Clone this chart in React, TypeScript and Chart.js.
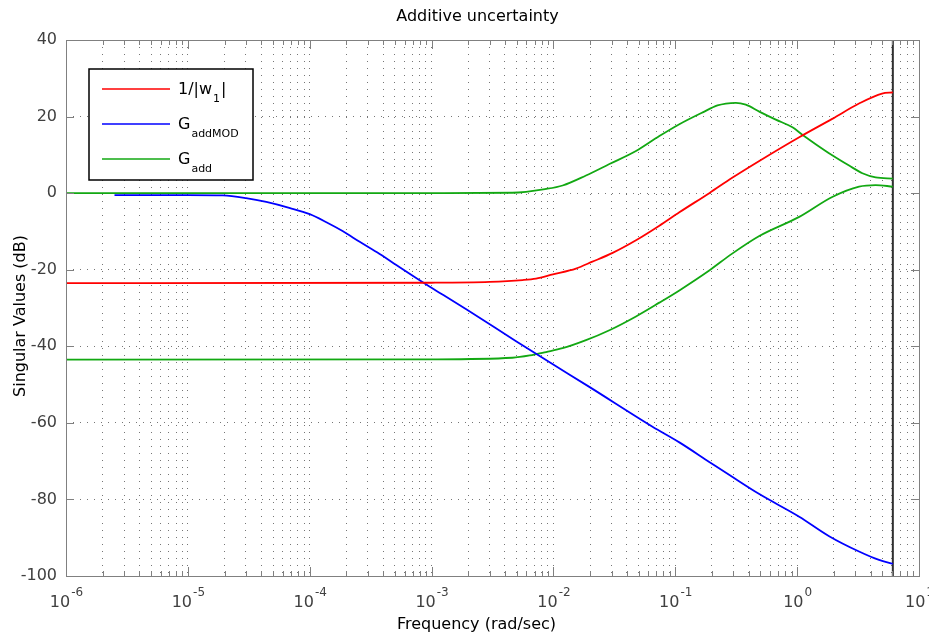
import React, { useEffect, useRef } from "react";
import { Chart, registerables } from "chart.js";
Chart.register(...registerables);

// ---- data (frequency in rad/sec, magnitude in dB) ----
const invW1Freq = [1e-6, 1e-3, 3e-3, 5.6e-3, 7.2e-3, 0.0099, 0.0153, 0.0209, 0.0306, 0.0476, 0.074, 0.108, 0.19, 0.293, 0.489, 1.04, 1.94, 3.22, 4.97, 6.1];
const invW1Db = [-23.5, -23.4, -23.2, -22.7, -22.3, -21.2, -19.7, -17.9, -15.6, -12.3, -8.5, -5.0, 0, 4.0, 8.4, 14.6, 19.4, 23.4, 26.0, 26.3];

const gAddModFreq = [2.5e-6, 1e-5, 1.94e-5, 3e-5, 4.4e-5, 6.9e-5, 1e-4, 1.37e-4, 1.86e-4, 2.57e-4, 3.75e-4, 5.1e-4, 7e-4, 9.6e-4, 1.16e-3, 1.94e-3, 4.9e-3, 8.7e-3, 0.0197, 0.065, 0.108, 0.19, 0.293, 0.489, 1.04, 1.83, 3.22, 4.7, 6.1];
const gAddModDb = [-0.5, -0.5, -0.6, -1.3, -2.3, -3.9, -5.5, -7.6, -9.9, -12.7, -15.9, -18.7, -21.6, -24.4, -26.0, -30.4, -38.6, -43.6, -50.6, -61.0, -65.1, -70.2, -74.1, -78.6, -84.5, -89.6, -93.6, -95.8, -96.8];

const gAddUpperFreq = [1e-6, 1e-3, 4.6e-3, 8.7e-3, 0.0119, 0.0185, 0.0288, 0.0476, 0.074, 0.108, 0.168, 0.222, 0.26, 0.314, 0.379, 0.489, 0.668, 0.916, 1.11, 1.42, 1.94, 2.67, 3.43, 4.41, 6.1];
const gAddUpperDb = [0, 0, 0.1, 1.1, 2.0, 4.6, 7.6, 11.0, 14.9, 18.0, 21.1, 22.9, 23.4, 23.6, 23.1, 21.3, 19.2, 17.2, 15.2, 12.8, 9.9, 7.2, 5.2, 4.1, 3.8];

const gAddLowerFreq = [1e-6, 1e-3, 4.6e-3, 6.4e-3, 8.7e-3, 0.0119, 0.0185, 0.0288, 0.0476, 0.074, 0.108, 0.19, 0.293, 0.489, 1.04, 1.94, 3.22, 4.4, 6.1];
const gAddLowerDb = [-43.5, -43.4, -43.0, -42.4, -41.5, -40.5, -38.4, -35.8, -32.2, -28.6, -25.4, -20.2, -15.8, -11.2, -6.2, -1.0, 1.7, 2.1, 1.7];

const endFreq = [6.1, 6.1];
const endDb = [40, -100];

const xDecadeExps = [-6, -5, -4, -3, -2, -1, 0, 1];
const minorMultipliers = [2, 3, 4, 5, 6, 7, 8, 9];
const yTickValues = [40, 20, 0, -20, -40, -60, -80, -100];

const legendBase = ["1/|w", "G", "G"];
const legendSub = ["1", "addMOD", "add"];
const legendTail = ["|", "", ""];
const seriesColors = ["#ff0000", "#0000ff", "#12a812"];

const titleText = "Additive uncertainty";
const xTitleText = "Frequency (rad/sec)";
const yTitleText = "Singular Values (dB)";

const FONT = '"DejaVu Sans"';

const zip = (fs: number[], ds: number[]) => fs.map((f, i) => ({ x: f, y: ds[i] }));

export default function App() {
  const ref = useRef<HTMLCanvasElement | null>(null);

  useEffect(() => {
    const canvas = ref.current;
    if (!canvas) return;

    const decor = {
      id: "decor",
      afterDatasetsDraw(chart: any) {
        const ctx = chart.ctx as CanvasRenderingContext2D;
        const { left, right, top, bottom } = chart.chartArea;
        const xs = chart.scales.x;
        const ys = chart.scales.y;
        ctx.save();
        // axes box
        ctx.strokeStyle = "#808080";
        ctx.lineWidth = 1;
        ctx.setLineDash([]);
        ctx.strokeRect(left + 0.5, top + 0.5, right - left, bottom - top);
        // y tick marks
        ctx.beginPath();
        for (const v of yTickValues) {
          const py = Math.round(ys.getPixelForValue(v)) + 0.5;
          ctx.moveTo(left, py); ctx.lineTo(left + 8, py);
          ctx.moveTo(right, py); ctx.lineTo(right - 8, py);
        }
        // x tick marks
        for (const e of xDecadeExps) {
          const px = Math.round(xs.getPixelForValue(Math.pow(10, e))) + 0.5;
          ctx.moveTo(px, bottom); ctx.lineTo(px, bottom - 9);
          ctx.moveTo(px, top); ctx.lineTo(px, top + 9);
          if (e < 1) {
            for (const m of minorMultipliers) {
              const pm = Math.round(xs.getPixelForValue(m * Math.pow(10, e))) + 0.5;
              ctx.moveTo(pm, bottom); ctx.lineTo(pm, bottom - 5);
              ctx.moveTo(pm, top); ctx.lineTo(pm, top + 5);
            }
          }
        }
        ctx.stroke();

        // x tick labels 10^e
        ctx.fillStyle = "#404040";
        ctx.textAlign = "left";
        ctx.textBaseline = "alphabetic";
        for (const e of xDecadeExps) {
          const px = xs.getPixelForValue(Math.pow(10, e));
          ctx.font = `16px ${FONT}`;
          const bw = ctx.measureText("10").width;
          ctx.font = `12px ${FONT}`;
          const es = String(e);
          const ew = ctx.measureText(es).width;
          const start = px - (bw + ew) / 2;
          ctx.font = `16px ${FONT}`;
          ctx.fillText("10", start, bottom + 31);
          ctx.font = `12px ${FONT}`;
          ctx.fillText(es, start + bw + 1, bottom + 20);
        }

        // titles
        ctx.fillStyle = "#000";
        ctx.textAlign = "center";
        ctx.font = `16px ${FONT}`;
        ctx.fillText(titleText, (left + right) / 2 - 15, top - 19);
        ctx.fillText(xTitleText, (left + right) / 2 - 16, bottom + 53);
        ctx.save();
        ctx.translate(25, (top + bottom) / 2 + 8);
        ctx.rotate(-Math.PI / 2);
        ctx.fillText(yTitleText, 0, 0);
        ctx.restore();

        // legend
        const lx = left + 23;
        const ly = top + 29;
        const lw = 164;
        const lh = 111;
        ctx.fillStyle = "#fff";
        ctx.fillRect(lx, ly, lw, lh);
        ctx.strokeStyle = "#000";
        ctx.lineWidth = 1.5;
        ctx.strokeRect(lx, ly, lw, lh);
        for (let i = 0; i < legendBase.length; i++) {
          const yy = ly + 20 + i * 35;
          ctx.strokeStyle = seriesColors[i];
          ctx.lineWidth = 1.5;
          ctx.beginPath();
          ctx.moveTo(lx + 13, yy);
          ctx.lineTo(lx + 81, yy);
          ctx.stroke();
          ctx.fillStyle = "#000";
          ctx.textAlign = "left";
          let tx = lx + 89;
          ctx.font = `16px ${FONT}`;
          ctx.fillText(legendBase[i], tx, yy + 5);
          tx += ctx.measureText(legendBase[i]).width + 1;
          ctx.font = `11px ${FONT}`;
          ctx.fillText(legendSub[i], tx, yy + 13);
          tx += ctx.measureText(legendSub[i]).width + 1;
          if (legendTail[i]) {
            ctx.font = `16px ${FONT}`;
            ctx.fillText(legendTail[i], tx, yy + 5);
          }
        }
        ctx.restore();
      },
    };

    const lineDs = (data: any[], color: string) => ({
      data,
      borderColor: color,
      backgroundColor: color,
      borderWidth: 1.8,
      pointRadius: 0,
      cubicInterpolationMode: "monotone" as const,
      fill: false,
    });

    const chart = new Chart(canvas, {
      type: "line",
      data: {
        datasets: [
          lineDs(zip(invW1Freq, invW1Db), seriesColors[0]),
          lineDs(zip(gAddModFreq, gAddModDb), seriesColors[1]),
          lineDs(zip(gAddUpperFreq, gAddUpperDb), seriesColors[2]),
          lineDs(zip(gAddLowerFreq, gAddLowerDb), seriesColors[2]),
          {
            data: zip(endFreq, endDb),
            borderColor: "#303030",
            borderWidth: 2,
            pointRadius: 0,
            tension: 0,
            fill: false,
          },
        ],
      },
      options: {
        responsive: false,
        devicePixelRatio: 1,
        animation: false,
        events: [],
        layout: { padding: { top: 40, right: 10, left: 0, bottom: 0 } },
        plugins: { legend: { display: false }, title: { display: false }, tooltip: { enabled: false } },
        scales: {
          x: {
            type: "logarithmic",
            min: 1e-6,
            max: 10,
            afterFit: (s: any) => { s.height = 63; },
            afterBuildTicks: (s: any) => {
              const t: any[] = [];
              for (const e of xDecadeExps) {
                t.push({ value: Math.pow(10, e) });
                if (e < 1) for (const m of minorMultipliers) t.push({ value: m * Math.pow(10, e) });
              }
              s.ticks = t;
            },
            ticks: { display: false },
            grid: { color: "#767676", lineWidth: 1, drawTicks: false },
            border: { display: false, dash: [1, 6] },
          },
          y: {
            type: "linear",
            min: -100,
            max: 40,
            afterFit: (s: any) => { s.width = 66; },
            afterBuildTicks: (s: any) => {
              s.ticks = yTickValues.slice().reverse().map((v) => ({ value: v }));
            },
            ticks: { padding: 9, color: "#404040", font: { family: "DejaVu Sans", size: 16 } },
            grid: { color: "#767676", lineWidth: 1, drawTicks: false },
            border: { display: false, dash: [1, 6] },
          },
        },
      },
      plugins: [decor],
    } as any);

    return () => chart.destroy();
  }, []);

  return (
    <div style={{ position: "absolute", left: 0, top: 0, width: 929, height: 639, background: "#fff" }}>
      <canvas ref={ref} width={929} height={639} />
    </div>
  );
}
